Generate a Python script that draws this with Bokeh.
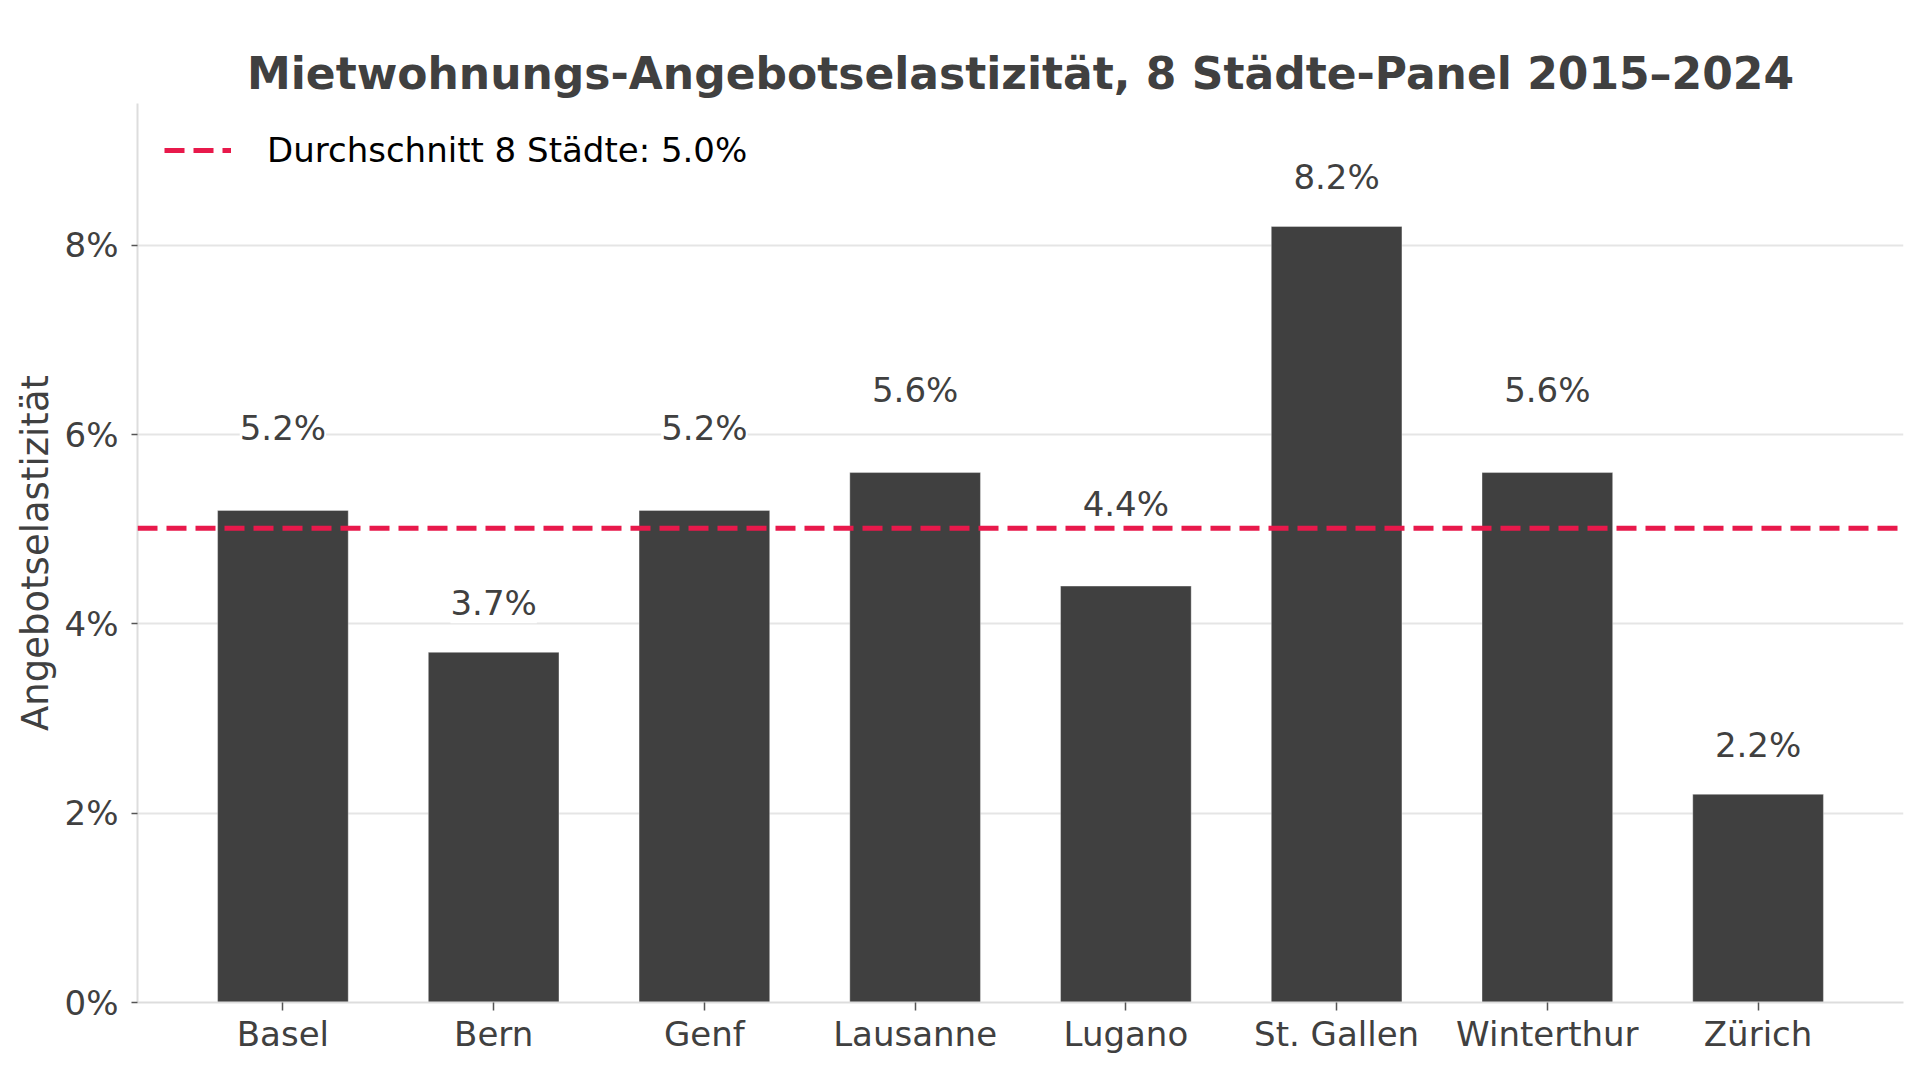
from bokeh.models import ColumnDataSource, FactorRange, Range1d, Span, LabelSet, Legend, LegendItem, FixedTicker, PrintfTickFormatter, Title
from bokeh.plotting import figure
from bokeh.core.properties import value
from bokeh.embed import file_html
from bokeh.resources import INLINE

cities = ['Basel', 'Bern', 'Genf', 'Lausanne', 'Lugano', 'St. Gallen', 'Winterthur', 'Zürich']
elasticity = [5.2, 3.7, 5.2, 5.6, 4.4, 8.2, 5.6, 2.2]
y_ticks = [0, 2, 4, 6, 8]

mean = sum(elasticity) / len(elasticity)
# labels close to the mean line get lifted a bit more so they don't sit on it
label_y = [v + (0.87 if abs(v - mean) < 0.7 else 0.52) for v in elasticity]
labels = ['%.1f%%' % v for v in elasticity]

src = ColumnDataSource(dict(city=cities, val=elasticity, ly=label_y, txt=labels))

FONT = 'DejaVu Sans'
DARK = '#404040'
RED = '#e8194b'

p = figure(width=1920, height=1071, output_backend='svg', toolbar_location=None,
           x_range=FactorRange(factors=cities, range_padding=0.19, range_padding_units='absolute'),
           y_range=Range1d(0, 9.5),
           min_border_left=137, min_border_right=17, min_border_top=103, min_border_bottom=69)
p.outline_line_color = None

# built-in title (innermost) is an invisible spacer; the real title is stacked above it
p.title.text = '\u00a0'
p.title.text_font_size = '1px'
p.title.text_alpha = 0
p.title.standoff = 33
p.add_layout(Title(text='Mietwohnungs-Angebotselastizität, 8 Städte-Panel 2015–2024',
                   align='center', text_font=FONT, text_font_size='44px', text_font_style='bold',
                   text_color=DARK, standoff=10), 'above')

p.vbar(x='city', top='val', width=0.62, source=src, fill_color=DARK,
       line_color='white', line_alpha=0.35, line_width=1)

p.add_layout(Span(location=mean, dimension='width', line_color=RED,
                  line_dash='20 9', line_width=5))
# single point line: invisible in the plot, only feeds the legend glyph
dummy = p.line(x=[cities[0]], y=[mean], line_color=RED, line_dash='20 9', line_width=5)

p.add_layout(LabelSet(x='city', y='ly', text='txt', source=src, text_align='center',
                      text_baseline='middle', text_font=value(FONT), text_font_size='34px',
                      text_color=DARK, background_fill_color='white'))

legend = Legend(items=[LegendItem(label='Durchschnitt 8 Städte: 5.0%', renderers=[dummy])],
                location='top_left', margin=27, padding=10, glyph_width=67, glyph_height=40,
                label_standoff=36, label_text_font=FONT, label_text_font_size='34px',
                label_text_color='black', border_line_color=None, background_fill_alpha=0)
p.add_layout(legend)

p.xgrid.grid_line_color = None
p.ygrid.grid_line_color = '#e5e5e5'
p.ygrid.grid_line_width = 2

p.yaxis.ticker = FixedTicker(ticks=y_ticks)
p.yaxis.formatter = PrintfTickFormatter(format='%d%%')
p.yaxis.axis_label = 'Angebotselastizität'
p.yaxis.axis_label_standoff = 5

for ax in (p.xaxis[0], p.yaxis[0]):
    ax.axis_line_color = '#dddddd'
    ax.axis_line_width = 2
    ax.major_tick_line_color = '#555555'
    ax.major_tick_line_width = 1.5
    ax.major_tick_in = 0
    ax.minor_tick_line_color = None
    ax.major_label_text_font = FONT
    ax.major_label_text_font_size = '34px'
    ax.major_label_text_color = DARK
    ax.axis_label_text_font = FONT
    ax.axis_label_text_font_size = '37px'
    ax.axis_label_text_font_style = 'normal'
    ax.axis_label_text_color = DARK

p.yaxis.major_tick_out = 6
p.yaxis.major_label_standoff = 13
p.xaxis.major_tick_out = 8
p.xaxis.major_label_standoff = 3

open('out.html', 'w').write(file_html(p, INLINE))
